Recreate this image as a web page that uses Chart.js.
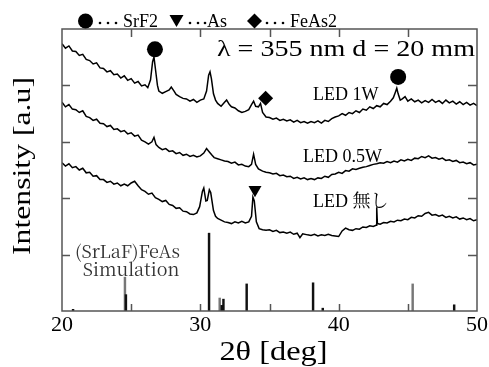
<!DOCTYPE html>
<html>
<head>
<meta charset="utf-8">
<script src="https://cdn.jsdelivr.net/npm/chart.js@4.4.1/dist/chart.umd.min.js"></script>
<style>
  html, body { margin: 0; padding: 0; background: #fff; }
  canvas { display: block; }
</style>
</head>
<body>
<canvas id="xrd" width="489" height="367"></canvas>
<script>
// XRD patterns, [2θ, intensity (a.u., offset)]
const led1W = [
  [20.00, 4.74], [20.25, 4.66], [20.50, 4.70], [20.75, 4.61], [21.00, 4.60], [21.25, 4.53], [21.50, 4.55], [21.75, 4.46],
  [22.00, 4.44], [22.25, 4.38], [22.50, 4.40], [22.75, 4.31], [23.00, 4.30], [23.25, 4.24], [23.50, 4.26], [23.75, 4.19],
  [24.00, 4.20], [24.25, 4.13], [24.50, 4.17], [24.75, 4.09], [25.00, 4.12], [25.25, 4.04], [25.50, 4.07], [25.75, 3.99],
  [26.00, 4.01], [26.20, 3.96], [26.40, 4.10], [26.55, 4.42], [26.65, 4.50], [26.75, 4.30], [26.90, 4.00], [27.00, 3.90],
  [27.25, 3.86], [27.50, 3.89], [27.75, 3.92], [27.90, 3.97], [28.10, 3.90], [28.25, 3.84], [28.50, 3.80], [28.75, 3.77],
  [29.00, 3.76], [29.25, 3.72], [29.50, 3.75], [29.75, 3.70], [30.00, 3.74], [30.25, 3.76], [30.45, 3.90], [30.60, 4.18],
  [30.70, 4.24], [30.80, 4.12], [30.95, 3.85], [31.10, 3.74], [31.25, 3.68], [31.50, 3.63], [31.75, 3.70], [31.90, 3.74],
  [32.10, 3.66], [32.25, 3.62], [32.50, 3.60], [32.75, 3.55], [33.00, 3.52], [33.25, 3.54], [33.50, 3.57], [33.70, 3.66],
  [33.85, 3.72], [34.00, 3.63], [34.20, 3.62], [34.35, 3.68], [34.50, 3.52], [34.75, 3.44], [35.00, 3.43], [35.25, 3.40],
  [35.50, 3.42], [35.75, 3.38], [36.00, 3.40], [36.25, 3.37], [36.50, 3.39], [36.75, 3.35], [37.00, 3.38], [37.25, 3.34],
  [37.50, 3.36], [37.75, 3.33], [38.00, 3.36], [38.25, 3.34], [38.50, 3.37], [38.75, 3.33], [39.00, 3.38], [39.25, 3.36],
  [39.50, 3.41], [39.75, 3.44], [40.00, 3.46], [40.25, 3.50], [40.50, 3.47], [40.75, 3.52], [41.00, 3.50], [41.25, 3.55],
  [41.50, 3.52], [41.75, 3.58], [42.00, 3.56], [42.25, 3.62], [42.50, 3.59], [42.75, 3.64], [43.00, 3.62], [43.25, 3.68],
  [43.50, 3.66], [43.75, 3.72], [43.95, 3.78], [44.10, 3.88], [44.20, 3.95], [44.30, 3.85], [44.45, 3.74], [44.60, 3.76],
  [44.80, 3.80], [45.00, 3.72], [45.25, 3.76], [45.50, 3.71], [45.75, 3.74], [46.00, 3.69], [46.25, 3.73], [46.50, 3.70],
  [46.75, 3.75], [47.00, 3.70], [47.25, 3.73], [47.50, 3.68], [47.75, 3.74], [48.00, 3.69], [48.25, 3.72], [48.50, 3.67],
  [48.75, 3.71], [49.00, 3.66], [49.25, 3.70], [49.50, 3.65], [49.75, 3.68], [50.00, 3.64]
]

const led05W = [
  [20.00, 3.70], [20.25, 3.62], [20.50, 3.66], [20.75, 3.58], [21.00, 3.57], [21.25, 3.52], [21.50, 3.55], [21.75, 3.45],
  [22.00, 3.43], [22.25, 3.38], [22.50, 3.40], [22.75, 3.33], [23.00, 3.32], [23.25, 3.27], [23.50, 3.29], [23.75, 3.22],
  [24.00, 3.23], [24.25, 3.18], [24.50, 3.20], [24.75, 3.14], [25.00, 3.16], [25.25, 3.10], [25.50, 3.12], [25.75, 3.03],
  [26.00, 3.00], [26.25, 2.96], [26.50, 3.00], [26.65, 3.08], [26.80, 2.95], [27.00, 2.90], [27.25, 2.86], [27.50, 2.88],
  [27.75, 2.83], [28.00, 2.84], [28.25, 2.79], [28.50, 2.81], [28.75, 2.76], [29.00, 2.78], [29.25, 2.74], [29.50, 2.76],
  [29.75, 2.73], [30.00, 2.75], [30.25, 2.80], [30.45, 2.88], [30.65, 2.82], [30.85, 2.76], [31.00, 2.72], [31.25, 2.70],
  [31.50, 2.68], [31.75, 2.66], [32.00, 2.65], [32.25, 2.62], [32.50, 2.64], [32.75, 2.59], [33.00, 2.60], [33.25, 2.57],
  [33.50, 2.56], [33.70, 2.60], [33.85, 2.78], [34.00, 2.60], [34.20, 2.52], [34.50, 2.48], [34.75, 2.46], [35.00, 2.45],
  [35.25, 2.43], [35.50, 2.44], [35.75, 2.40], [36.00, 2.41], [36.25, 2.38], [36.50, 2.39], [36.75, 2.35], [37.00, 2.37],
  [37.25, 2.34], [37.50, 2.36], [37.75, 2.33], [38.00, 2.35], [38.25, 2.33], [38.50, 2.36], [38.75, 2.35], [39.00, 2.39],
  [39.25, 2.37], [39.50, 2.42], [39.75, 2.43], [40.00, 2.46], [40.25, 2.44], [40.50, 2.49], [40.75, 2.48], [41.00, 2.52],
  [41.25, 2.51], [41.50, 2.53], [41.75, 2.55], [42.00, 2.56], [42.25, 2.58], [42.50, 2.60], [42.75, 2.61], [43.00, 2.63],
  [43.25, 2.62], [43.50, 2.65], [43.75, 2.63], [44.00, 2.66], [44.25, 2.64], [44.50, 2.68], [44.75, 2.66], [45.00, 2.69],
  [45.25, 2.67], [45.50, 2.71], [45.75, 2.70], [46.00, 2.74], [46.25, 2.72], [46.50, 2.75], [46.75, 2.71], [47.00, 2.72],
  [47.25, 2.69], [47.50, 2.71], [47.75, 2.67], [48.00, 2.68], [48.25, 2.65], [48.50, 2.67], [48.75, 2.63], [49.00, 2.64],
  [49.25, 2.61], [49.50, 2.63], [49.75, 2.59], [50.00, 2.60]
]

const ledOff = [
  [20.00, 2.63], [20.25, 2.57], [20.50, 2.61], [20.75, 2.54], [21.00, 2.56], [21.25, 2.50], [21.50, 2.53], [21.75, 2.45],
  [22.00, 2.46], [22.25, 2.39], [22.50, 2.40], [22.75, 2.33], [23.00, 2.33], [23.25, 2.28], [23.50, 2.30], [23.75, 2.25],
  [24.00, 2.27], [24.25, 2.22], [24.50, 2.25], [24.75, 2.22], [25.00, 2.27], [25.25, 2.30], [25.50, 2.22], [25.75, 2.15],
  [26.00, 2.12], [26.25, 2.07], [26.50, 2.09], [26.75, 2.01], [27.00, 1.98], [27.25, 1.94], [27.50, 1.96], [27.75, 1.89],
  [28.00, 1.87], [28.25, 1.82], [28.50, 1.83], [28.75, 1.77], [29.00, 1.76], [29.25, 1.72], [29.50, 1.71], [29.75, 1.74],
  [29.95, 1.85], [30.15, 2.12], [30.25, 2.18], [30.40, 1.95], [30.50, 1.96], [30.65, 2.15], [30.75, 2.10], [30.95, 1.78],
  [31.10, 1.68], [31.25, 1.64], [31.50, 1.61], [31.75, 1.58], [32.00, 1.57], [32.25, 1.55], [32.50, 1.58], [32.75, 1.56],
  [33.00, 1.59], [33.25, 1.56], [33.50, 1.58], [33.70, 1.68], [33.80, 2.02], [33.90, 1.95], [34.05, 1.58], [34.25, 1.46],
  [34.50, 1.44], [34.75, 1.43], [35.00, 1.44], [35.25, 1.41], [35.50, 1.43], [35.75, 1.39], [36.00, 1.40], [36.25, 1.38],
  [36.50, 1.40], [36.75, 1.36], [37.00, 1.38], [37.20, 1.30], [37.40, 1.37], [37.75, 1.35], [38.00, 1.34], [38.25, 1.36],
  [38.50, 1.33], [38.75, 1.35], [39.00, 1.34], [39.25, 1.36], [39.50, 1.34], [39.75, 1.33], [40.00, 1.32], [40.25, 1.42],
  [40.50, 1.47], [40.75, 1.44], [41.00, 1.43], [41.25, 1.46], [41.50, 1.45], [41.75, 1.49], [42.00, 1.48], [42.25, 1.51],
  [42.50, 1.50], [42.70, 1.52], [42.75, 1.84], [42.80, 1.55], [43.00, 1.54], [43.25, 1.57], [43.50, 1.56], [43.75, 1.59],
  [44.00, 1.58], [44.25, 1.61], [44.50, 1.60], [44.75, 1.63], [45.00, 1.62], [45.25, 1.66], [45.50, 1.65], [45.75, 1.69],
  [46.00, 1.68], [46.25, 1.73], [46.50, 1.75], [46.75, 1.70], [47.00, 1.71], [47.25, 1.68], [47.50, 1.70], [47.75, 1.66],
  [48.00, 1.68], [48.25, 1.65], [48.50, 1.67], [48.75, 1.63], [49.00, 1.65], [49.25, 1.62], [49.50, 1.64], [49.75, 1.60],
  [50.00, 1.62]
]

// (SrLaF)FeAs simulated reflections
const simLines = [[20.8, 0.03], [24.62, 0.29], [30.63, 1.38], [31.55, 0.10], [31.67, 0.21], [33.35, 0.48], [38.15, 0.50], [38.85, 0.05], [48.35, 0.11]]
const simLinesGray = [[24.55, 0.60], [31.40, 0.23], [45.35, 0.48]]

// phase markers above the peaks
const markSrF2 = [[26.72, 4.64], [44.30, 4.15]]
const markAs = [[33.95, 2.15]]
const markFeAs2 = [[34.72, 3.77]]

const serif = '"Liberation Serif", "Times New Roman", serif'
const mincho = '"Noto Serif CJK JP", serif'

const toXY = arr => arr.map(p => ({x: p[0], y: p[1]}))

const traceStyle = {
    type: "line",
    borderColor: "#000",
    borderWidth: 1.5,
    pointRadius: 0,
    fill: false,
    tension: 0
}

const markStyle = {
    type: "scatter",
    backgroundColor: "#000",
    borderColor: "#000",
    borderWidth: 0
}

function stretchText(ctx, text, x, y, font, sx, rot, align) {
    ctx.save()
    ctx.translate(x, y)
    if (rot) ctx.rotate(rot)
    ctx.scale(sx, 1)
    ctx.font = font
    ctx.textAlign = align
    ctx.textBaseline = "middle"
    ctx.fillText(text, 0, 0)
    ctx.restore()
}

function drawSymbol(ctx, kind, cx, cy, r) {
    ctx.beginPath()
    if (kind === "circle") {
        ctx.arc(cx, cy, r, 0, Math.PI * 2)
    } else if (kind === "down") {
        ctx.moveTo(cx - r, cy - r * 0.85)
        ctx.lineTo(cx + r, cy - r * 0.85)
        ctx.lineTo(cx, cy + r * 0.85)
        ctx.closePath()
    } else {
        ctx.moveTo(cx, cy - r)
        ctx.lineTo(cx + r, cy)
        ctx.lineTo(cx, cy + r)
        ctx.lineTo(cx - r, cy)
        ctx.closePath()
    }
    ctx.fill()
}

const decorations = {
    id: "decorations",
    afterDraw(chart) {
        const {ctx, chartArea: a, scales: {x, y}} = chart
        ctx.save()

        // frame with inward ticks on all four sides
        ctx.strokeStyle = "#555"
        ctx.lineWidth = 1.5
        ctx.strokeRect(a.left, a.top, a.right - a.left, a.bottom - a.top)
        ctx.beginPath()
        x.ticks.forEach(t => {
            if (t.value <= x.min || t.value >= x.max) return
            const px = Math.round(x.getPixelForValue(t.value)) + 0.5
            ctx.moveTo(px, a.bottom); ctx.lineTo(px, a.bottom - 7)
            ctx.moveTo(px, a.top); ctx.lineTo(px, a.top + 8)
        })
        y.ticks.forEach(t => {
            if (t.value <= y.min || t.value >= y.max) return
            const py = Math.round(y.getPixelForValue(t.value)) + 0.5
            ctx.moveTo(a.left, py); ctx.lineTo(a.left + 8, py)
            ctx.moveTo(a.right, py); ctx.lineTo(a.right - 9, py)
        })
        ctx.stroke()

        ctx.fillStyle = "#000"

        // sample labels
        ctx.font = "18px " + serif.replace("serif", '"Noto Serif CJK JP", serif')
        ctx.textAlign = "left"
        ctx.textBaseline = "middle"
        ctx.fillText("LED 1W", x.getPixelForValue(38.15), y.getPixelForValue(3.83))
        ctx.fillText("LED 0.5W", x.getPixelForValue(37.43), y.getPixelForValue(2.73))
        ctx.fillText("LED 無し", x.getPixelForValue(38.15), y.getPixelForValue(1.93))

        ctx.fillStyle = "#333"
        ctx.font = "18px " + mincho
        ctx.textAlign = "center"
        ctx.fillText("(SrLaF)FeAs", x.getPixelForValue(24.74), y.getPixelForValue(1.06))
        ctx.fillText("Simulation", x.getPixelForValue(24.99), y.getPixelForValue(0.74))

        ctx.fillStyle = "#000"
        stretchText(ctx, "λ = 355 nm d = 20 mm", x.getPixelForValue(31.2), y.getPixelForValue(4.62), "23px " + serif, 1.22, 0, "left")

        // axis titles
        stretchText(ctx, "2θ [deg]", (a.left + a.right) / 2 + 4, 353, "27px " + serif, 1.2, 0, "center")
        stretchText(ctx, "Intensity [a.u]", 23, (a.top + a.bottom) / 2 - 4, "26px " + serif, 1.22, -Math.PI / 2, "center")

        // key above the frame
        const key = [
            {kind: "circle", sx: 85.5, r: 7.5, dots: [100, 108, 116], tx: 123, text: "SrF2"},
            {kind: "down", sx: 176.5, r: 7, dots: [190, 198, 205], tx: 207, text: "As"},
            {kind: "diamond", sx: 254.5, r: 7.5, dots: [267, 275, 283], tx: 290, text: "FeAs2"}
        ]
        ctx.font = "18px " + serif
        ctx.textAlign = "left"
        ctx.textBaseline = "alphabetic"
        key.forEach(k => {
            drawSymbol(ctx, k.kind, k.sx, 21, k.r)
            k.dots.forEach(d => {
                ctx.beginPath()
                ctx.arc(d, 23, 1.3, 0, Math.PI * 2)
                ctx.fill()
            })
            ctx.fillText(k.text, k.tx, 27)
        })

        ctx.restore()
    }
}

new Chart(document.getElementById("xrd"), {
    type: "line",
    data: {
        datasets: [
            {...traceStyle, label: "LED 1W", data: toXY(led1W)},
            {...traceStyle, label: "LED 0.5W", data: toXY(led05W)},
            {...traceStyle, label: "LED 無し", data: toXY(ledOff)},
            {type: "bar", label: "Simulation", data: toXY(simLines), backgroundColor: "#111", barThickness: 1.8, grouped: false},
            {type: "bar", label: "Simulation (weak)", data: toXY(simLinesGray), backgroundColor: "#777", barThickness: 1.8, grouped: false},
            {...markStyle, label: "SrF2", data: toXY(markSrF2), pointStyle: "circle", pointRadius: 8},
            {...markStyle, label: "As", data: toXY(markAs), pointStyle: "triangle", pointRotation: 180, pointRadius: 7.5},
            {...markStyle, label: "FeAs2", data: toXY(markFeAs2), pointStyle: "rectRot", pointRadius: 7.5}
        ]
    },
    options: {
        responsive: false,
        animation: false,
        devicePixelRatio: 1,
        layout: {padding: {top: 29, right: 12, left: 0, bottom: 0}},
        plugins: {
            legend: {display: false},
            tooltip: {enabled: false}
        },
        scales: {
            x: {
                type: "linear",
                min: 20,
                max: 50,
                offset: false,
                grid: {display: false, drawTicks: false},
                border: {display: false},
                ticks: {
                    stepSize: 5,
                    autoSkip: false,
                    maxRotation: 0,
                    padding: 1,
                    color: "#000",
                    font: {family: serif, size: 22},
                    callback: v => v % 10 === 0 ? v : ""
                },
                afterFit: s => { s.height = 56; s.paddingLeft = 0; s.paddingRight = 0 }
            },
            y: {
                type: "linear",
                min: 0,
                max: 5,
                grid: {display: false, drawTicks: false},
                border: {display: false},
                ticks: {display: false, stepSize: 1},
                afterFit: s => { s.width = 62 }
            }
        }
    },
    plugins: [decorations]
})
</script>
</body>
</html>
